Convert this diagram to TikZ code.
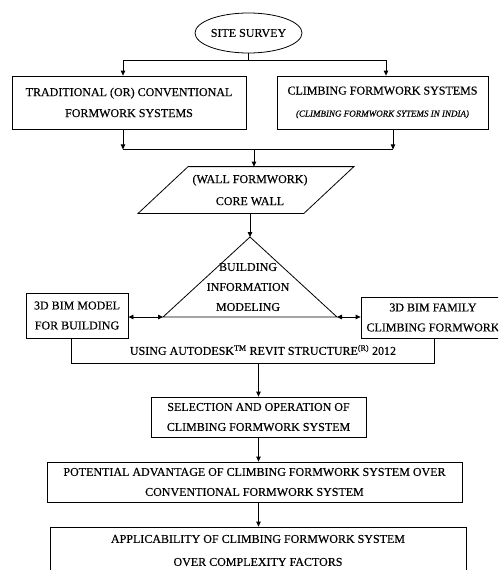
\documentclass[tikz,border=0pt]{standalone}
\usepackage{fontspec}
\setmainfont{Liberation Serif}
\newfontfamily\darkserif[FakeBold=0.35]{Liberation Serif}
\usetikzlibrary{shapes.geometric,arrows.meta,calc}
\begin{document}
\begin{tikzpicture}[x=1pt,y=-1pt,
  line width=0.8pt,
  txt/.style={font=\darkserif\fontsize{12}{21}\selectfont, align=center, inner sep=0pt},
  boxx/.style={draw, txt, rectangle},
  arr/.style={-{Triangle[length=5pt,width=4.5pt]}},
  arrb/.style={{Triangle[length=5pt,width=4.5pt]}-{Triangle[length=5pt,width=4.5pt]}}]
\useasboundingbox (0,0) rectangle (498,570);
\clip (0,0) rectangle (498,570);
\node[draw, ellipse, txt, minimum width=107pt, minimum height=40pt] (survey) at (248.5,33) {SITE SURVEY};
\node[boxx, minimum width=234pt, minimum height=53pt] (trad) at (129,102.5) {TRADITIONAL (OR) CONVENTIONAL\\FORMWORK SYSTEMS};
\node[boxx, minimum width=211pt, minimum height=53pt] (climb) at (382.5,102.5) {CLIMBING FORMWORK SYSTEMS\\[1pt]{\fontsize{9}{11}\selectfont\itshape (CLIMBING FORMWORK SYTEMS IN INDIA)}};
\node[txt, font=\darkserif\fontsize{12}{22}\selectfont, minimum width=165pt, minimum height=46pt] (wall) at (250,190) {(WALL FORMWORK)\\CORE WALL};
\draw ([xshift=21pt]wall.north west) -- ([xshift=21pt]wall.north east) -- ([xshift=-29pt]wall.south east) -- ([xshift=-29pt]wall.south west) -- cycle;
\coordinate (apex) at (250,237);
\coordinate (tl) at (163,317);
\coordinate (tr) at (337,317);
\draw (apex) -- (tr) -- (tl) -- cycle;
\node[txt, font=\darkserif\fontsize{12}{20}\selectfont] (bim) at (248,287) {BUILDING\\INFORMATION\\MODELING};
\node[boxx, font=\darkserif\fontsize{12}{20}\selectfont, minimum width=102pt, minimum height=45pt] (bimmodel) at (77,315.5) {3D BIM MODEL\\FOR BUILDING};
\node[boxx, font=\darkserif\fontsize{12}{20}\selectfont, minimum width=144pt, minimum height=41pt] (family) at (433,317.5) {3D BIM FAMILY\\CLIMBING FORMWORK};
\node[minimum width=362pt, minimum height=25pt, inner sep=0pt] (revitbox) at (253,350.5) {};
\draw (revitbox.north west) |- (revitbox.south east) -- (revitbox.north east);
\node[txt] (revit) at (263,350) {USING AUTODESK\textsuperscript{TM} REVIT STRUCTURE\textsuperscript{(R)} 2012};
\node[boxx, font=\darkserif\fontsize{12}{20}\selectfont, minimum width=215pt, minimum height=40pt] (sel) at (258.5,417) {SELECTION AND OPERATION OF\\CLIMBING FORMWORK SYSTEM};
\node[boxx, font=\darkserif\fontsize{12}{20}\selectfont, minimum width=415pt, minimum height=40pt] (pot) at (254.5,482) {POTENTIAL ADVANTAGE OF CLIMBING FORMWORK SYSTEM OVER\\CONVENTIONAL FORMWORK SYSTEM};
\node[boxx, font=\darkserif\fontsize{12}{23}\selectfont, minimum width=416pt, minimum height=47pt] (app) at (258,550.5) {APPLICABILITY OF CLIMBING FORMWORK SYSTEM\\OVER COMPLEXITY FACTORS};
% connectors
\draw (survey.south) -- ++(0,7) coordinate (js);
\draw[arr] (js) -| ([xshift=-6pt]trad.north);
\draw[arr] (js) -| ([xshift=3.5pt]climb.north);
\draw[arr] ([xshift=-6pt]trad.south) -- ++(0,20) coordinate (jl);
\draw[arr] ([xshift=10.5pt]climb.south) -- ++(0,20) coordinate (jr);
\draw (jl) -- (jr);
\path ([xshift=4pt]wall.north) coordinate (wtop);
\draw[arr] (jl -| wtop) -- (wtop);
\draw[arr] (wall.south) -- (apex);
\draw[arrb] (bimmodel.east |- tl) -- (tl);
\draw[arrb] (tr) -- (family.west |- tr);
\draw[arr] (revitbox.south -| sel.north) -- (sel.north);
\draw[arr] (sel.south) -- (sel.south |- pot.north);
\draw[arr] (pot.south -| sel.south) -- (app.north -| sel.south);
\end{tikzpicture}
\end{document}
